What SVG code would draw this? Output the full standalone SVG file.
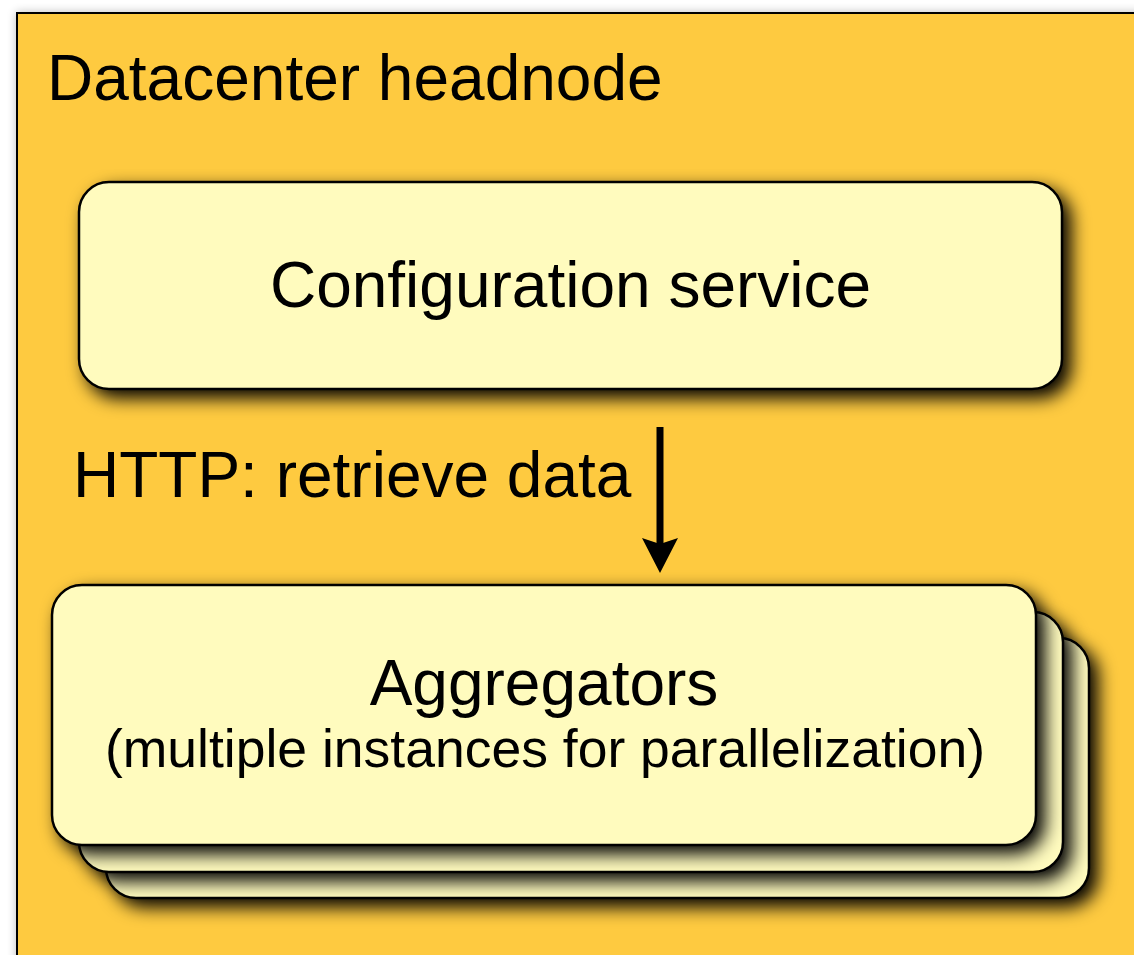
<svg xmlns="http://www.w3.org/2000/svg" width="1134" height="955" viewBox="0 0 1134 955">
<defs>
<filter id="sh" x="-10%" y="-10%" width="130%" height="140%">
<feGaussianBlur in="SourceAlpha" stdDeviation="9"/>
<feOffset dx="8" dy="8" result="b"/>
<feComponentTransfer><feFuncA type="linear" slope="1"/></feComponentTransfer>
<feMerge><feMergeNode/><feMergeNode in="SourceGraphic"/></feMerge>
</filter>
<filter id="osh" x="-5%" y="-5%" width="110%" height="110%">
<feGaussianBlur in="SourceAlpha" stdDeviation="5"/>
<feComponentTransfer><feFuncA type="linear" slope="0.25"/></feComponentTransfer>
<feMerge><feMergeNode/><feMergeNode in="SourceGraphic"/></feMerge>
</filter>
<marker id="ah" viewBox="0 0 35 36" refX="22" refY="18" markerWidth="35" markerHeight="36" markerUnits="userSpaceOnUse" orient="auto">
<path d="M0,0 L35,18 L0,36 L6,18 Z" fill="#000"/>
</marker>
<style>
.t{font-family:"Liberation Sans",Arial,sans-serif;fill:#000}
.box{fill:#FFFBBE;stroke:#000;stroke-width:2.5}
</style>
</defs>
<rect width="1134" height="955" fill="#fff"/>
<g id="headnode">
<rect x="17" y="13" width="1140" height="960" fill="#FECA41" stroke="#000" stroke-width="2" filter="url(#osh)"/>
<text class="t" x="47" y="100" font-size="64">Datacenter headnode</text>
</g>
<g id="config">
<rect class="box" x="79" y="182" width="983" height="207" rx="30" filter="url(#sh)"/>
<text class="t" x="570.5" y="307" font-size="64" text-anchor="middle">Configuration service</text>
</g>
<g id="aggregators">
<rect class="box" x="106" y="638" width="983" height="260" rx="30" filter="url(#sh)" fill="#F4EFB0"/>
<rect class="box" x="79" y="612" width="984" height="260" rx="30" filter="url(#sh)"/>
<rect class="box" x="52" y="585" width="984" height="260" rx="30" filter="url(#sh)"/>
<text class="t" x="544" y="705" font-size="64" text-anchor="middle">Aggregators</text>
<text class="t" x="545" y="767" font-size="53.5" text-anchor="middle">(multiple instances for parallelization)</text>
</g>
<g id="connectors">
<line x1="660" y1="427" x2="660" y2="560" stroke="#000" stroke-width="7" marker-end="url(#ah)"/>
<text class="t" x="73" y="497" font-size="64">HTTP: retrieve data</text>
</g>
</svg>
